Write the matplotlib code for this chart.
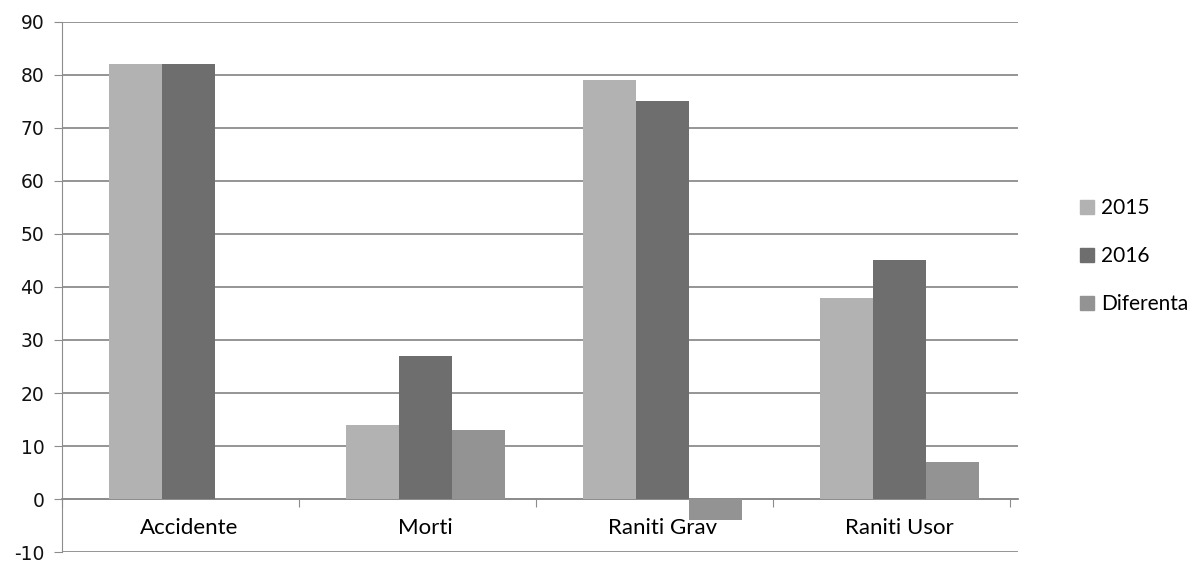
import numpy as np
import matplotlib
matplotlib.use("Agg")
import matplotlib.pyplot as plt
from matplotlib.patches import Patch

categorii = ["Accidente", "Morti", "Raniti Grav", "Raniti Usor"]
serii = ["2015", "2016", "Diferenta"]
v2015 = [82, 14, 79, 38]
v2016 = [82, 27, 75, 45]
diferenta = [0, 13, -4, 7]
culori = ["#b2b2b2", "#6e6e6e", "#939393"]

plt.rcParams["font.family"] = ["Lato", "DejaVu Sans"]
plt.rcParams["axes.unicode_minus"] = False

fig = plt.figure(figsize=(12, 5.63), dpi=100)
ax = fig.add_axes([0.052, 0.0195, 0.796, 0.9415])

x = np.arange(len(categorii)) + 0.034
w = 0.2236
for i, (vals, c) in enumerate(zip([v2015, v2016, diferenta], culori)):
    ax.bar(x + (i - 1) * w, vals, w, color=c, zorder=3)

ax.set_xlim(-0.5, 3.534)
ax.set_ylim(-10, 90)
ax.set_yticks(range(-10, 91, 10))
ax.tick_params(axis="y", labelsize=13.5, length=6, color="#8c8c8c", pad=7)
for t in ax.get_yticklabels():
    t.set_family(["DejaVu Sans"])
    t.set_color("#111111")
ax.yaxis.grid(True, color="#8c8c8c", lw=1.3, zorder=0)

# axa x pe linia 0
ax.spines["bottom"].set_position(("data", 0))
ax.spines["bottom"].set_color("#8c8c8c")
ax.spines["bottom"].set_linewidth(1.3)
ax.spines["left"].set_color("#8c8c8c")
ax.spines["top"].set_visible(False)
ax.spines["right"].set_visible(False)
ax.set_xticks(np.arange(-0.5, 3.6, 1))
ax.set_xticklabels([])
ax.tick_params(axis="x", length=6, color="#8c8c8c", direction="out")
ax.set_xticks(x, minor=True)
ax.set_xticklabels(categorii, minor=True, fontsize=16)
ax.tick_params(axis="x", which="minor", length=0, pad=14)

handles = [Patch(color=c) for c in culori]
fig.legend(handles, serii, loc="center left", bbox_to_anchor=(0.9, 0.545),
           frameon=False, fontsize=15, handlelength=0.65, handleheight=0.65,
           handletextpad=0.35, labelspacing=1.35, borderpad=0, borderaxespad=0)

fig.savefig("out.png", dpi=100)
